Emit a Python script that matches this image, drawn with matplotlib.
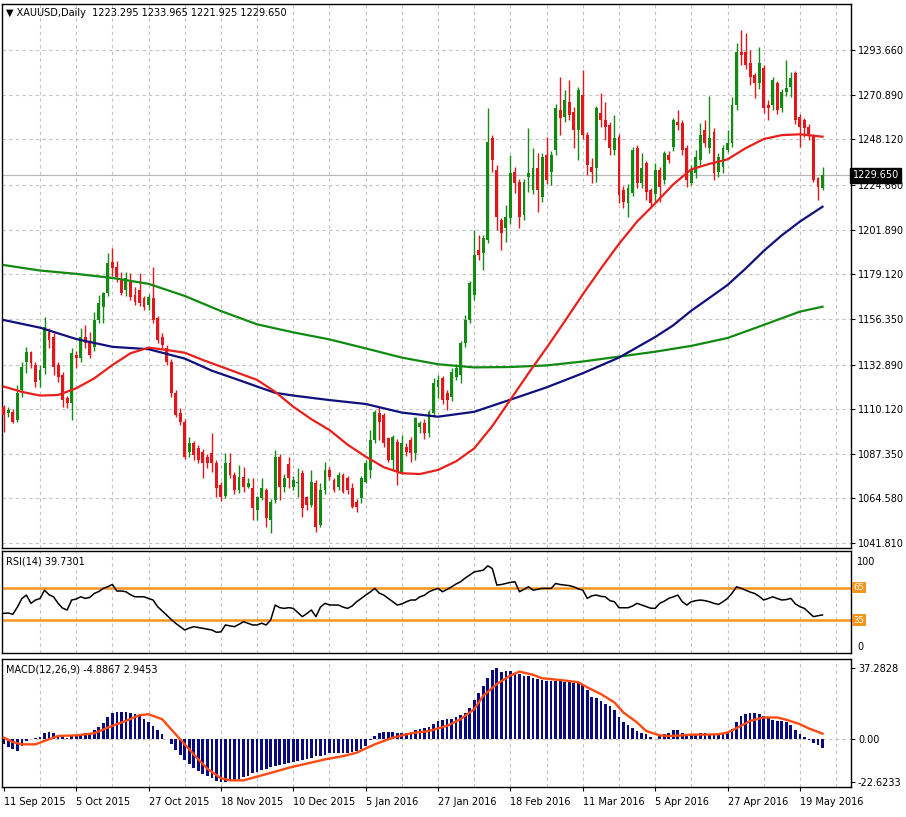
import numpy as np
import pandas as pd
import matplotlib
matplotlib.use("Agg")
import matplotlib.pyplot as plt
from matplotlib.transforms import blended_transform_factory

plt.rcParams['font.family'] = ['DejaVu Sans']

# -- daily XAUUSD bars, 11 Sep 2015 .. 26 May 2016
opens = [1111.4, 1108.0, 1108.9, 1104.6, 1120.0, 1134.4, 1139.5, 1132.7, 1125.1, 1131.0,
         1149.8, 1147.2, 1132.7, 1127.6, 1115.7, 1113.1, 1137.8, 1136.1, 1147.2, 1144.7,
         1142.1, 1155.7, 1162.5, 1169.3, 1185.5, 1183.0, 1176.2, 1171.0, 1176.2, 1168.5,
         1171.0, 1166.8, 1163.4, 1166.8, 1156.6, 1147.2, 1141.2, 1134.4, 1118.3, 1108.0,
         1103.8, 1088.4, 1092.7, 1090.2, 1088.4, 1085.9, 1087.6, 1082.5, 1071.4, 1066.0,
         1082.5, 1076.5, 1068.9, 1075.7, 1070.6, 1069.7, 1058.6, 1064.6, 1068.9, 1053.5,
         1063.8, 1085.9, 1070.6, 1082.0, 1070.6, 1072.3, 1077.4, 1065.5, 1061.2, 1072.3,
         1051.0, 1068.9, 1079.1, 1074.0, 1070.6, 1076.5, 1074.8, 1069.7, 1062.9, 1064.6,
         1073.1, 1079.1, 1094.4, 1108.0, 1107.2, 1095.3, 1084.2, 1093.6, 1078.2, 1091.0,
         1094.4, 1087.6, 1101.2, 1102.9, 1098.0, 1108.0, 1121.7, 1125.9, 1118.2, 1116.5,
         1126.8, 1127.6, 1143.8, 1155.7, 1168.5, 1191.5, 1189.8, 1196.6, 1248.5, 1232.4,
         1206.8, 1202.6, 1207.7, 1231.5, 1226.4, 1209.4, 1228.9, 1222.1, 1233.2, 1218.7,
         1240.0, 1231.5, 1242.6, 1263.0, 1259.6, 1267.3, 1262.2, 1252.8, 1270.7, 1250.2,
         1234.1, 1233.2, 1261.3, 1257.9, 1255.4, 1242.6, 1249.4, 1222.1, 1215.3, 1220.4,
         1243.4, 1225.6, 1235.8, 1222.1, 1220.0, 1232.4, 1227.3, 1240.0, 1244.3, 1257.1,
         1256.2, 1243.4, 1225.6, 1230.7, 1237.5, 1252.8, 1243.4, 1251.9, 1231.5, 1234.1,
         1242.6, 1246.0, 1265.6, 1292.8, 1292.8, 1286.9, 1280.9, 1276.6, 1284.3, 1265.6,
         1265.6, 1276.6, 1263.9, 1272.4, 1274.9, 1281.8, 1259.6, 1257.9, 1254.5, 1250.2,
         1228.1, 1223.295]
highs = [1112.5, 1111.0, 1110.0, 1122.5, 1134.4, 1142.1, 1140.1, 1134.4, 1132.7, 1157.1,
         1151.5, 1149.0, 1134.0, 1129.0, 1117.0, 1141.2, 1140.0, 1151.5, 1153.2, 1149.8,
         1160.0, 1168.5, 1170.2, 1189.8, 1192.3, 1186.0, 1180.4, 1180.4, 1179.6, 1172.7,
         1179.6, 1168.0, 1169.0, 1183.0, 1158.0, 1149.0, 1143.0, 1136.0, 1120.0, 1110.6,
         1105.0, 1096.1, 1094.0, 1092.0, 1090.0, 1087.0, 1097.8, 1084.2, 1073.0, 1087.6,
         1087.6, 1078.0, 1081.6, 1080.8, 1074.8, 1074.8, 1066.0, 1074.8, 1070.0, 1064.0,
         1089.3, 1087.0, 1077.0, 1085.9, 1076.0, 1079.9, 1079.0, 1066.0, 1079.1, 1074.0,
         1072.3, 1083.3, 1080.8, 1075.0, 1078.0, 1077.4, 1076.0, 1072.3, 1064.0, 1076.0,
         1084.2, 1099.5, 1109.7, 1111.4, 1108.0, 1096.0, 1097.0, 1095.0, 1096.9, 1093.0,
         1096.0, 1106.3, 1104.0, 1105.0, 1109.5, 1125.9, 1127.6, 1127.0, 1120.0, 1131.0,
         1133.0, 1145.0, 1158.2, 1175.5, 1201.7, 1199.2, 1199.0, 1263.9, 1250.0, 1234.9,
         1208.0, 1214.5, 1240.0, 1234.1, 1228.0, 1228.0, 1253.7, 1243.4, 1240.9, 1241.0,
         1249.4, 1242.0, 1266.0, 1280.0, 1273.2, 1278.3, 1264.7, 1275.0, 1283.5, 1252.0,
         1238.3, 1265.0, 1271.5, 1267.3, 1257.0, 1260.5, 1251.0, 1224.0, 1225.0, 1244.0,
         1245.0, 1240.9, 1237.0, 1223.0, 1236.0, 1234.0, 1242.0, 1242.0, 1258.8, 1263.0,
         1258.0, 1245.0, 1234.9, 1242.6, 1256.2, 1257.9, 1270.2, 1254.0, 1241.0, 1245.0,
         1252.8, 1269.8, 1297.1, 1303.9, 1302.2, 1293.7, 1281.8, 1295.4, 1286.0, 1268.0,
         1280.0, 1278.0, 1274.0, 1288.6, 1282.6, 1283.0, 1261.0, 1259.0, 1256.0, 1251.0,
         1229.0, 1233.965]
lows = [1098.7, 1106.0, 1102.9, 1103.5, 1116.5, 1128.5, 1131.0, 1121.7, 1121.7, 1128.0,
        1141.2, 1127.6, 1124.2, 1111.4, 1110.6, 1104.6, 1131.0, 1134.4, 1141.2, 1136.1,
        1140.0, 1154.0, 1154.0, 1168.0, 1178.0, 1175.0, 1168.5, 1168.0, 1165.9, 1163.4,
        1163.0, 1160.8, 1161.0, 1154.0, 1143.8, 1141.2, 1132.7, 1116.5, 1106.3, 1102.0,
        1084.5, 1085.9, 1084.2, 1082.5, 1074.8, 1079.9, 1078.0, 1065.5, 1063.0, 1065.0,
        1074.8, 1067.0, 1067.2, 1068.0, 1069.7, 1053.5, 1053.5, 1063.8, 1050.1, 1046.7,
        1062.0, 1063.8, 1068.0, 1069.7, 1069.0, 1065.5, 1055.2, 1058.6, 1060.0, 1047.6,
        1050.1, 1067.0, 1074.0, 1068.0, 1069.0, 1067.2, 1067.0, 1059.5, 1057.8, 1062.0,
        1072.3, 1074.8, 1093.0, 1094.4, 1091.0, 1083.0, 1079.1, 1071.4, 1077.0, 1086.0,
        1083.3, 1084.0, 1098.0, 1095.0, 1096.0, 1106.0, 1116.0, 1113.0, 1109.7, 1114.5,
        1125.0, 1123.4, 1142.0, 1154.0, 1166.0, 1186.4, 1181.3, 1195.0, 1231.5, 1201.7,
        1191.5, 1195.8, 1205.0, 1220.4, 1202.6, 1206.8, 1221.3, 1220.0, 1211.1, 1216.0,
        1225.0, 1224.7, 1240.0, 1250.2, 1257.1, 1258.0, 1243.4, 1237.5, 1248.0, 1229.8,
        1225.6, 1226.4, 1254.5, 1247.7, 1240.0, 1240.0, 1215.3, 1212.8, 1208.5, 1219.0,
        1223.0, 1223.0, 1217.0, 1213.0, 1216.0, 1216.2, 1225.0, 1236.0, 1242.0, 1252.8,
        1240.0, 1223.9, 1224.7, 1228.1, 1235.0, 1244.0, 1241.0, 1227.3, 1229.0, 1231.0,
        1241.7, 1244.0, 1263.0, 1286.0, 1284.0, 1275.8, 1269.0, 1274.0, 1261.3, 1257.9,
        1263.0, 1261.0, 1262.0, 1270.0, 1269.8, 1256.0, 1244.3, 1249.4, 1247.7, 1226.0,
        1217.0, 1221.925]
closes = [1107.2, 1109.7, 1103.8, 1118.3, 1131.9, 1139.5, 1133.6, 1124.2, 1130.2, 1152.3,
          1145.5, 1131.9, 1126.8, 1114.8, 1113.1, 1138.7, 1136.1, 1147.2, 1143.8, 1137.8,
          1155.7, 1164.2, 1169.3, 1184.7, 1182.1, 1177.9, 1169.3, 1177.0, 1167.6, 1165.1,
          1164.2, 1162.5, 1167.6, 1155.7, 1145.5, 1143.0, 1134.4, 1118.3, 1107.2, 1103.8,
          1085.9, 1092.7, 1086.7, 1084.2, 1082.5, 1082.5, 1082.5, 1069.7, 1065.5, 1082.5,
          1076.5, 1068.9, 1075.7, 1070.6, 1072.3, 1059.5, 1065.5, 1069.7, 1054.4, 1062.9,
          1085.9, 1070.6, 1074.8, 1074.8, 1074.0, 1073.1, 1059.5, 1061.2, 1073.1, 1050.1,
          1068.9, 1079.1, 1075.7, 1068.9, 1076.5, 1068.0, 1068.9, 1060.3, 1060.3, 1074.8,
          1082.5, 1094.4, 1108.9, 1103.8, 1092.7, 1084.2, 1096.1, 1078.2, 1092.7, 1088.4,
          1087.6, 1105.5, 1102.9, 1097.8, 1108.9, 1123.4, 1125.1, 1114.8, 1114.8, 1129.3,
          1131.0, 1143.8, 1155.7, 1174.5, 1188.9, 1188.9, 1197.5, 1246.8, 1237.5, 1208.5,
          1200.0, 1208.5, 1230.7, 1225.6, 1208.5, 1226.4, 1230.7, 1233.2, 1222.1, 1239.2,
          1227.3, 1240.0, 1263.9, 1258.8, 1268.1, 1260.5, 1252.8, 1273.2, 1250.2, 1234.9,
          1231.5, 1263.9, 1257.9, 1254.5, 1243.4, 1248.5, 1219.6, 1216.2, 1223.0, 1242.6,
          1225.6, 1233.2, 1221.3, 1215.3, 1232.4, 1223.9, 1240.9, 1237.5, 1257.9, 1255.4,
          1242.6, 1227.3, 1232.4, 1239.2, 1250.2, 1246.0, 1248.5, 1230.7, 1239.2, 1243.4,
          1246.0, 1265.6, 1292.8, 1291.1, 1286.0, 1280.0, 1276.6, 1286.9, 1263.9, 1263.9,
          1278.3, 1263.0, 1272.4, 1274.1, 1279.2, 1257.9, 1254.5, 1253.7, 1250.2, 1227.3,
          1223.9, 1229.650]

# -- moving averages (bar index, price)
ma_red_x = [0, 4, 8, 12, 16, 20, 24, 28, 32, 36, 40, 44, 48, 52, 56, 60, 64, 68, 72, 76,
            80, 84, 88, 92, 96, 100, 104, 108, 112, 116, 120, 124, 128, 132, 136, 140,
            144, 148, 152, 156, 160, 164, 168, 172, 176, 181]
ma_red_v = [1121.7, 1119.0, 1117.1, 1117.4, 1120.8, 1125.9, 1132.7, 1138.7, 1141.6, 1140.4,
            1139.0, 1135.3, 1131.9, 1128.5, 1125.1, 1119.0, 1111.4, 1105.0, 1099.5, 1092.0,
            1085.9, 1080.5, 1077.4, 1077.0, 1079.1, 1083.5, 1090.1, 1101.5, 1115.0, 1128.5,
            1141.5, 1155.0, 1168.8, 1182.0, 1194.6, 1206.0, 1215.3, 1225.0, 1232.7, 1235.5,
            1237.8, 1243.5, 1248.2, 1250.2, 1250.6, 1249.4]
ma_blue_x = [0, 8, 16, 24, 32, 40, 46, 52, 56, 60, 64, 72, 80, 88, 96, 104, 112, 120,
             128, 136, 144, 148, 152, 156, 160, 164, 168, 172, 176, 181]
ma_blue_v = [1155.7, 1151.8, 1146.0, 1142.0, 1140.8, 1136.0, 1129.8, 1125.0, 1121.7, 1118.5,
             1117.1, 1114.8, 1112.8, 1108.4, 1106.3, 1108.8, 1115.0, 1121.3, 1128.5, 1136.5,
             1147.0, 1153.0, 1160.5, 1167.0, 1173.6, 1182.0, 1191.0, 1199.0, 1206.0, 1213.6]
ma_green_x = [0, 8, 16, 24, 32, 40, 48, 56, 64, 72, 80, 88, 96, 104, 112, 120, 128, 136,
              144, 152, 160, 168, 176, 181]
ma_green_v = [1183.8, 1181.0, 1179.3, 1177.2, 1174.2, 1168.0, 1160.3, 1153.5, 1149.4, 1145.8,
              1141.2, 1136.5, 1133.1, 1131.5, 1131.7, 1132.5, 1134.5, 1137.0, 1139.5, 1142.5,
              1146.5, 1153.2, 1160.0, 1162.5]

# -- RSI(14), one value per bar
rsi = [41.2, 41.5, 40.3, 47.0, 55.0, 58.2, 50.5, 53.6, 55.0, 62.8,
       58.5, 56.6, 50.5, 46.0, 44.3, 53.6, 54.5, 56.6, 55.1, 56.0,
       59.7, 61.5, 64.4, 66.0, 68.1, 61.9, 62.0, 61.3, 58.5, 56.6,
       56.6, 56.6, 55.0, 53.6, 47.4, 43.5, 39.6, 35.5, 31.9, 28.8,
       25.7, 27.5, 28.8, 28.0, 27.3, 26.5, 25.7, 23.6, 24.0, 30.4,
       29.5, 28.8, 31.0, 33.4, 31.9, 30.4, 30.4, 32.0, 30.4, 35.0,
       48.9, 46.5, 45.8, 46.5, 45.8, 42.0, 38.1, 41.0, 44.3, 38.1,
       47.0, 50.5, 49.0, 48.9, 48.9, 47.0, 45.8, 48.0, 52.0, 55.0,
       58.2, 61.0, 64.4, 60.0, 58.2, 55.1, 52.0, 48.9, 50.0, 52.0,
       53.6, 53.6, 56.6, 58.0, 61.3, 63.0, 64.4, 61.3, 63.5, 65.9,
       68.5, 70.6, 74.0, 76.8, 79.8, 80.5, 81.4, 85.4, 82.9, 67.5,
       68.0, 69.0, 70.0, 70.6, 61.3, 63.5, 65.9, 62.8, 63.5, 64.4,
       64.4, 64.4, 69.0, 68.0, 67.5, 67.0, 65.9, 64.0, 62.8, 55.1,
       57.5, 58.2, 57.0, 56.6, 53.0, 52.0, 46.4, 46.4, 46.4, 48.0,
       50.5, 49.0, 47.4, 46.0, 45.8, 50.5, 52.5, 55.1, 56.5, 58.2,
       52.0, 48.9, 52.0, 53.0, 53.6, 53.0, 52.0, 50.5, 49.5, 52.0,
       55.1, 60.0, 65.9, 64.5, 62.8, 61.0, 59.7, 57.0, 53.6, 55.0,
       56.6, 55.0, 53.6, 54.0, 55.1, 50.0, 47.4, 45.8, 42.0, 38.1,
       39.0, 39.7301]
rsi_levels = [65, 35]

# -- MACD(12,26,9): main as histogram, signal as line
macd_main = [-2.5, -4.0, -5.0, -6.0, -3.5, -1.0, 0.3, 0.5, 1.2, 3.0,
             4.0, 3.5, 2.3, 1.0, 0.5, 1.5, 2.2, 2.8, 3.3, 3.5,
             5.0, 6.5, 8.5, 11.5, 13.5, 14.2, 14.3, 14.3, 14.0, 13.0,
             12.0, 10.5, 9.0, 7.0, 4.8, 2.5, 0.2, -2.5, -5.5, -8.5,
             -10.8, -13.0, -15.0, -16.8, -18.2, -19.5, -20.5, -21.8, -22.6, -22.3,
             -22.0, -21.4, -20.8, -20.0, -19.2, -18.0, -17.0, -16.2, -15.5, -14.7,
             -14.0, -13.5, -12.8, -12.3, -11.8, -11.5, -11.1, -10.5, -9.7, -9.0,
             -8.7, -8.2, -7.5, -7.1, -7.1, -7.1, -7.1, -6.8, -6.0, -5.2,
             -3.5, -0.5, 1.8, 3.0, 3.8, 3.8, 3.8, 3.5, 3.1, 3.1,
             4.0, 4.7, 5.2, 5.8, 6.5, 8.0, 9.5, 10.3, 10.5, 10.8,
             11.5, 12.6, 14.0, 16.5, 20.5, 24.0, 28.0, 32.0, 36.5, 37.3,
             35.5, 35.8, 35.8, 35.0, 34.0, 33.3, 33.1, 32.3, 31.8, 31.3,
             30.8, 30.8, 30.8, 30.4, 29.9, 29.9, 29.6, 29.3, 28.5, 26.0,
             22.0, 21.5, 19.8, 18.6, 17.2, 15.2, 11.5, 8.8, 7.6, 6.1,
             4.5, 3.4, 2.8, 0.9, 0.2, 1.5, 2.9, 3.5, 4.6, 5.0,
             3.0, 2.3, 2.0, 2.6, 3.1, 3.1, 2.8, 2.6, 2.6, 3.1,
             3.8, 5.5, 8.8, 12.0, 13.4, 14.0, 13.8, 13.1, 12.0, 10.9,
             10.2, 9.6, 9.6, 9.2, 7.5, 5.0, 2.6, 1.4, -0.3, -1.8,
             -3.2, -4.8867]
signal_x = [0, 2, 4, 7, 9, 12, 16, 20, 23, 27, 30, 32, 35, 37, 40, 43, 45, 48, 50, 53,
            55, 59, 63, 67, 71, 75, 78, 82, 86, 90, 94, 98, 101, 104, 106, 109, 112, 114,
            117, 119, 122, 124, 127, 129, 132, 135, 137, 140, 142, 145, 147, 150, 152,
            155, 158, 160, 163, 165, 168, 171, 173, 176, 178, 181]
signal_v = [0.8, -1.5, -2.7, -2.7, -0.9, 1.7, 2.0, 3.1, 6.1, 9.6, 12.6, 13.1, 10.5, 5.2,
            -2.7, -10.6, -15.5, -20.5, -21.6, -21.6, -20.3, -17.7, -15.0, -12.8, -10.6,
            -8.9, -7.1, -2.7, 0.8, 3.1, 4.3, 7.0, 10.5, 15.8, 22.8, 29.0, 33.4, 35.5,
            33.8, 32.0, 31.3, 30.8, 29.9, 27.2, 23.7, 19.3, 14.0, 8.8, 4.3, 2.0, 1.7,
            2.0, 2.4, 2.4, 2.6, 3.5, 7.0, 9.6, 11.4, 11.4, 10.2, 7.9, 5.6, 2.9453]

price_ticks = [1041.81, 1064.58, 1087.35, 1110.12, 1132.89, 1156.35, 1179.12,
               1201.89, 1224.66, 1248.12, 1270.89, 1293.66]
macd_ticks = [-22.6233, 0.0, 37.2828]
date_labels = ["11 Sep 2015", "5 Oct 2015", "27 Oct 2015", "18 Nov 2015", "10 Dec 2015",
               "5 Jan 2016", "27 Jan 2016", "18 Feb 2016", "11 Mar 2016", "5 Apr 2016",
               "27 Apr 2016", "19 May 2016"]
holidays = ["2015-12-25", "2016-01-01", "2016-03-25"]

# -- trading days -> bar index
dates = pd.bdate_range("2015-09-11", "2016-05-26")
dates = dates[~dates.isin(pd.to_datetime(holidays))]
label_pos = [dates.get_loc(pd.to_datetime(s, format="%d %b %Y")) for s in date_labels]

o = np.array(opens); h = np.array(highs); l = np.array(lows); c = np.array(closes)
x = np.arange(len(c))

BULL = '#138a13'
BEAR = '#e3161b'
GRID = '#c4c4c4'
FS = 7

W, H = 906, 817
fig = plt.figure(figsize=(W / 100, H / 100), dpi=100)
fig.patch.set_facecolor('white')


def box(top, bottom, left=2, right=851):
    return [left / W, 1 - bottom / H, (right - left) / W, (bottom - top) / H]


ax1 = fig.add_axes(box(4, 548))
ax2 = fig.add_axes(box(551, 653))
ax3 = fig.add_axes(box(659, 787))

xlim = (-0.4, 187.3)
for ax in (ax1, ax2, ax3):
    ax.set_xlim(*xlim)
    ax.set_facecolor('white')
    for s in ax.spines.values():
        s.set_color('black')
        s.set_linewidth(1)
    for k in range(8, 188, 8):
        ax.axvline(k, color=GRID, lw=0.8, ls=(0, (3, 3)), zorder=0)
    ax.yaxis.tick_right()
    ax.tick_params(axis='y', direction='out', length=3, pad=2, labelsize=FS, colors='black')
    ax.tick_params(axis='x', direction='out', length=3, labelsize=FS)

# -- main price panel
ax1.set_ylim(1039.2, 1317.2)
ax1.set_yticks(price_ticks)
ax1.set_yticklabels([f"{v:.3f}" for v in price_ticks])
for v in price_ticks:
    ax1.axhline(v, color=GRID, lw=0.8, ls=(0, (3, 3)), zorder=0)
ax1.set_xticks([])

cols = np.where(c >= o, BULL, BEAR)
ax1.vlines(x, l, h, colors=cols, lw=1, zorder=2)
ax1.bar(x, np.maximum(np.abs(c - o), 0.6), bottom=np.minimum(o, c), width=0.64,
        color=cols, lw=0, zorder=3)

ax1.plot(ma_green_x, ma_green_v, color='#128a12', lw=1.6, zorder=4)
ax1.plot(ma_blue_x, ma_blue_v, color='#10107c', lw=1.6, zorder=4)
ax1.plot(ma_red_x, ma_red_v, color='#e8201c', lw=1.6, zorder=4)

last = closes[-1]
ax1.axhline(last, color='#b8b8b8', lw=0.9, zorder=1)
tr = blended_transform_factory(ax1.transAxes, ax1.transData)
ax1.text(1.002, last, f"{last:.3f}", transform=tr, ha='left', va='center', fontsize=FS,
         color='white', bbox=dict(facecolor='black', edgecolor='black', pad=1.6), zorder=10,
         clip_on=False)

ax1.text(0.005, 0.984, "\u25bc XAUUSD,Daily  " + " ".join(f"{v:.3f}" for v in
         (opens[-1], highs[-1], lows[-1], closes[-1])),
         transform=ax1.transAxes, ha='left', va='center', fontsize=FS, color='black')

# -- RSI panel
ax2.set_ylim(4.3, 99.2)
ax2.set_yticks([])
ax2.set_xticks([])
for lv in rsi_levels:
    ax2.axhline(lv, color='#f7941d', lw=1.8, zorder=2)
ax2.plot(x, rsi, color='black', lw=1.1, zorder=3)
ax2.text(0.005, 0.90, f"RSI(14) {rsi[-1]:.4f}", transform=ax2.transAxes, ha='left',
         va='center', fontsize=FS, color='black')
ax2.text(1.007, 0.89, "100", transform=ax2.transAxes, ha='left', va='center', fontsize=FS)
ax2.text(1.007, 0.06, "0", transform=ax2.transAxes, ha='left', va='center', fontsize=FS)
tr2 = blended_transform_factory(ax2.transAxes, ax2.transData)
for lv in rsi_levels:
    ax2.text(1.003, lv, str(lv), transform=tr2, ha='left', va='center', fontsize=6.2,
             color='white', bbox=dict(facecolor='#f7941d', edgecolor='none', pad=0.8),
             clip_on=False)

# -- MACD panel
ax3.set_ylim(-25.1, 42.1)
ax3.set_yticks(macd_ticks)
ax3.set_yticklabels(["-22.6233", "0.00", "37.2828"])
ax3.axhline(0, color=GRID, lw=0.8, ls=(0, (3, 3)), zorder=0)
ax3.bar(x, macd_main, width=0.6, color='#0a0a80', lw=0, zorder=2)
ax3.plot(signal_x, signal_v, color='#ff4a12', lw=1.7, zorder=3)
ax3.text(0.005, 0.92, f"MACD(12,26,9) {macd_main[-1]:.4f} {signal_v[-1]:.4f}",
         transform=ax3.transAxes, ha='left', va='center', fontsize=FS, color='black')
ax3.set_xticks(label_pos)
ax3.set_xticklabels(date_labels)
ax3.tick_params(axis='x', pad=4)
for t in ax3.get_xticklabels():
    t.set_ha('left')

fig.savefig("out.png", dpi=100, facecolor='white')
